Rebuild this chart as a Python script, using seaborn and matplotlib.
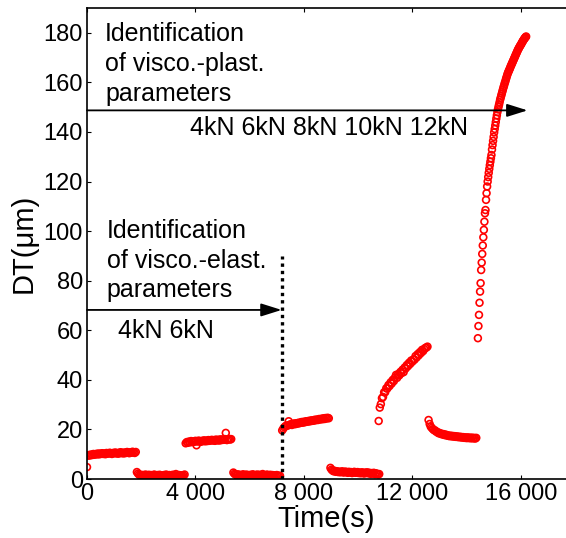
import numpy as np
import pandas as pd
import seaborn as sns
import matplotlib.pyplot as plt

# segments: start time (s), sampling step (s), DT values (um)
seg1_t0, seg1_dt = 0, 40
seg1 = [4.8, 9.4, 9.7, 9.5, 9.9, 9.7, 10.1, 9.8, 10.0, 10.2, 9.9, 10.3, 10.0, 10.2, 10.4, 10.1,
        10.3, 10.0, 10.5, 10.2, 10.4, 10.6, 10.3, 10.1, 10.5, 10.4, 10.7, 10.3, 10.5, 10.2, 10.6,
        10.8, 10.4, 10.6, 10.3, 10.7, 10.5, 10.9, 10.6, 10.4, 10.8, 10.6, 11.0, 10.7, 10.5, 10.9]
seg2_t0, seg2_dt = 1840, 40
seg2 = [2.8, 2.2, 1.8, 1.5, 1.7, 1.3, 1.6, 1.4, 1.8, 1.2, 1.5, 1.7, 1.3, 1.6, 1.1, 1.5, 1.8,
        1.4, 1.2, 1.6, 1.3, 1.7, 1.5, 1.0, 1.4, 1.6, 1.3, 1.8, 1.5, 1.2, 1.6, 1.4, 1.1, 1.7,
        1.3, 1.5, 2.0, 1.4, 1.2, 1.6, 1.3, 1.5, 1.1, 1.4, 1.8]
seg3_t0, seg3_dt = 3640, 40
seg3 = [14.4, 14.9, 14.6, 15.1, 14.8, 15.3, 14.9, 15.2, 15.0, 15.4, 13.6, 15.1, 15.5, 15.2,
        15.0, 15.4, 15.3, 15.6, 15.2, 15.5, 15.3, 15.7, 15.4, 15.6, 15.8, 15.5, 15.7, 15.4,
        15.9, 15.6, 15.8, 15.5, 16.0, 15.7, 15.9, 15.8, 16.1, 18.6, 15.7, 16.0, 16.2, 15.9, 16.1]
seg4_t0, seg4_dt = 5400, 40
seg4 = [2.6, 2.1, 1.8, 1.5, 1.9, 1.4, 1.7, 1.2, 1.6, 1.9, 1.3, 1.5, 1.8, 1.1, 1.6, 1.4, 1.7,
        1.3, 1.9, 1.5, 1.2, 1.6, 1.8, 1.4, 1.7, 1.3, 1.5, 2.0, 1.6, 1.2, 1.4, 1.8, 1.5, 1.3,
        1.7, 1.4, 1.6, 1.2, 1.5, 1.3, 1.6, 1.4, 1.1, 1.3]
seg5_t0, seg5_dt = 7200, 40
seg5 = [19.6, 20.3, 20.9, 21.3, 21.6, 21.5, 23.3, 21.9, 22.1, 21.8, 22.2, 22.4, 22.1, 22.5,
        22.3, 22.7, 22.5, 22.8, 23.0, 22.7, 23.1, 22.9, 23.3, 23.1, 23.4, 23.2, 23.6, 23.4,
        23.7, 23.5, 23.9, 23.7, 24.0, 23.8, 24.2, 24.0, 24.3, 24.1, 24.5, 24.2, 24.6, 24.4,
        24.7, 24.5]
seg6_t0, seg6_dt = 8980, 40
seg6 = [4.5, 3.8, 3.4, 3.1, 3.3, 2.9, 3.1, 2.8, 3.0, 2.7, 2.9, 3.1, 2.6, 2.8, 3.0, 2.7, 2.5,
        2.9, 2.6, 2.8, 2.4, 2.7, 2.9, 2.5, 2.6, 2.8, 2.4, 2.6, 2.3, 2.7, 2.5, 2.2, 2.6, 2.4,
        2.7, 2.3, 2.5, 2.1, 2.4, 2.2, 2.5, 2.0, 2.3, 2.1, 1.9, 2.0]
seg7_t0, seg7_dt = 10760, 40
seg7 = [23.4, 28.8, 30.2, 32.6, 33.1, 35.0, 35.0, 36.6, 36.5, 37.9, 37.5, 39.0, 38.5, 40.0,
        39.5, 40.9, 42.0, 40.8, 42.3, 41.8, 43.2, 42.7, 44.1, 43.1, 45.0, 44.6, 46.0, 45.5,
        46.9, 46.4, 47.8, 47.3, 48.2, 48.1, 49.6, 49.0, 50.4, 49.9, 51.2, 50.8, 52.1, 51.6,
        52.4, 52.9, 53.0, 53.4]
seg8_t0, seg8_dt = 12600, 40
seg8 = [23.8, 22.2, 21.1, 20.6, 20.1, 19.7, 19.6, 19.1, 19.0, 18.5, 18.6, 18.2, 18.3, 17.9,
        18.1, 17.7, 17.9, 17.5, 17.6, 17.3, 17.5, 17.2, 17.4, 17.1, 17.3, 17.0, 17.2, 16.9,
        17.1, 16.8, 17.0, 16.7, 16.9, 16.6, 16.8, 16.5, 16.8, 16.5, 16.7, 16.4, 16.7, 16.4,
        16.6, 16.3, 16.6]
seg9_t0, seg9_dt = 14420, 20
seg9 = [56.8, 61.7, 66.2, 71.1, 75.6, 79.0, 84.3, 87.3, 90.8, 94.2, 97.5, 100.5, 103.8,
        107.2, 108.5, 112.6, 115.3, 118.0, 120.0, 121.8, 123.5, 125.1, 126.6, 128.0, 129.4,
        130.7, 132.9, 134.7, 136.4, 138.0, 139.8, 141.2, 142.6, 144.0, 145.4, 146.7, 148.0,
        149.1, 150.1, 151.0, 152.0, 153.0, 153.8, 154.6, 155.4, 156.2, 157.0, 157.8, 158.5,
        159.3, 160.0, 160.7, 161.5, 162.2, 162.9, 163.6, 164.1, 164.6, 165.1, 165.6, 166.2,
        166.7, 167.2, 167.7, 168.2, 168.7, 169.2, 169.7, 170.2, 170.7, 171.2, 171.7, 172.2,
        172.7, 173.2, 173.6, 174.0, 174.4, 174.8, 175.1, 175.5, 175.9, 176.3, 176.7, 177.0,
        177.4, 177.7, 178.0, 178.3, 178.5]

segments = [(seg1_t0, seg1_dt, seg1), (seg2_t0, seg2_dt, seg2), (seg3_t0, seg3_dt, seg3),
            (seg4_t0, seg4_dt, seg4), (seg5_t0, seg5_dt, seg5), (seg6_t0, seg6_dt, seg6),
            (seg7_t0, seg7_dt, seg7), (seg8_t0, seg8_dt, seg8), (seg9_t0, seg9_dt, seg9)]

xticks = [0, 4000, 8000, 12000, 16000]
xtick_labels = ['0', '4 000', '8 000', '12 000', '16 000']
yticks = [0, 20, 40, 60, 80, 100, 120, 140, 160, 180]

frames = []
for t0, dt, vals in segments:
    t = t0 + dt * np.arange(len(vals))
    frames.append(pd.DataFrame({'Time': t, 'DT': vals}))
data = pd.concat(frames, ignore_index=True)

sns.set_style('ticks', {'axes.edgecolor': 'black', 'text.color': 'black',
                        'xtick.color': 'black', 'ytick.color': 'black',
                        'axes.labelcolor': 'black'})
plt.rcParams['font.family'] = ['Liberation Sans', 'DejaVu Sans']

fig = plt.figure(figsize=(5.66, 5.38), dpi=100)
ax = fig.add_axes([87/566, 59/538, 479/566, 471/538])

sns.scatterplot(x='Time', y='DT', data=data, ax=ax, marker='o', s=24,
                facecolors='none', edgecolor='red', linewidth=1.2, legend=False)

# dotted separator and arrows
t_sep = 7180
ax.vlines(t_sep, 0, 90, colors='black', linestyles=(0, (1, 1.2)), linewidth=2.4)
ax.annotate('', xy=(16250, 148.7), xytext=(0, 148.7),
            arrowprops=dict(arrowstyle='-|>,head_length=0.7,head_width=0.22', color='black',
                            lw=1.3, mutation_scale=18, shrinkA=0, shrinkB=0))
ax.annotate('', xy=(t_sep, 68.2), xytext=(0, 68.2),
            arrowprops=dict(arrowstyle='-|>,head_length=0.7,head_width=0.22', color='black',
                            lw=1.3, mutation_scale=18, shrinkA=0, shrinkB=0))

ax.text(664, 152.6, 'Identification\nof visco.-plast.\nparameters', fontsize=18,
        va='baseline', ha='left', linespacing=1.3)
ax.text(3800, 138.7, '4kN 6kN 8kN 10kN 12kN', fontsize=18, va='baseline', ha='left')
ax.text(727, 73.3, 'Identification\nof visco.-elast.\nparameters', fontsize=18,
        va='baseline', ha='left', linespacing=1.3)
ax.text(1155, 56.7, '4kN 6kN', fontsize=18, va='baseline', ha='left')

ax.set_xlim(0, 17670)
ax.set_ylim(0, 190)
ax.set_xticks(xticks)
ax.set_xticklabels(xtick_labels)
ax.set_yticks(yticks)
ax.tick_params(axis='both', direction='in', length=3, width=0.8, labelsize=17, top=True)
ax.tick_params(axis='x', pad=3)
ax.tick_params(axis='y', pad=3)
ax.spines['right'].set_visible(False)
for side in ['left', 'bottom', 'top']:
    ax.spines[side].set_linewidth(1.2)
ax.set_xlabel('Time(s)', fontsize=21, labelpad=0)
ax.set_ylabel('DT(\u03bcm)', fontsize=21, labelpad=4)

plt.savefig('out.png', dpi=100)
